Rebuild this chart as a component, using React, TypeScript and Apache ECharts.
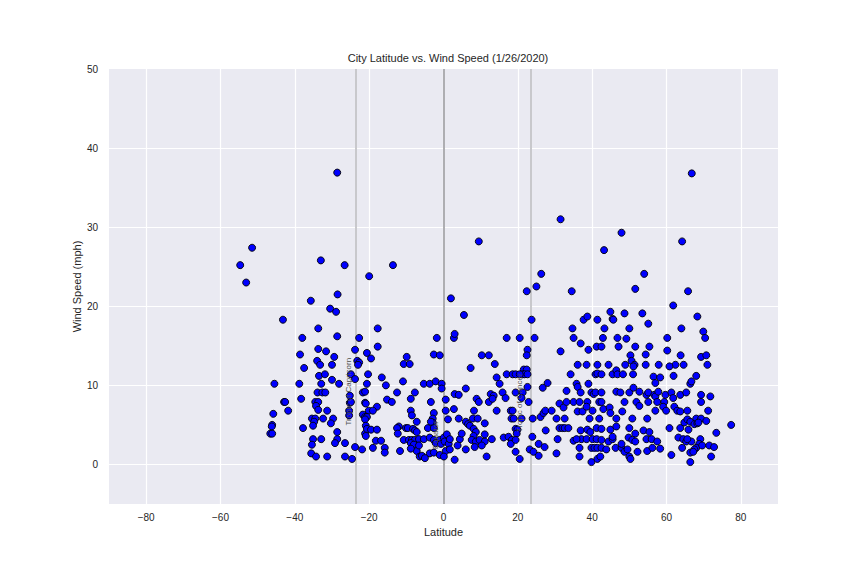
import React, { useEffect, useRef } from 'react';
import * as echarts from 'echarts';

// [latitude, wind speed (mph)] — southern hemisphere / near-equator south
const southernCities: [number, number][] = [
  [-51.5, 27.4], [-54.7, 25.2], [-53.1, 23.0], [-33.0, 25.8], [-26.6, 25.2], [-13.6, 25.2], [-20.0, 23.8],
  [-28.5, 21.5], [-35.7, 20.7], [-30.5, 19.7], [-28.9, 19.3], [-43.2, 18.3], [-33.7, 17.2], [-17.7, 17.2],
  [-38.0, 16.0], [-28.6, 16.2], [-22.7, 16.0], [-17.7, 14.9], [-33.7, 14.6], [-31.6, 14.3], [-38.6, 13.9],
  [-29.4, 13.6], [-23.8, 14.5], [-20.6, 14.1], [-19.5, 13.4], [-34.0, 13.1], [-33.2, 12.6], [-30.0, 12.6],
  [-23.2, 13.1], [-22.7, 12.9], [-23.0, 12.6], [-37.5, 12.2], [-9.9, 13.6], [-10.7, 12.7], [-9.1, 12.7],
  [-33.5, 11.2], [-31.9, 11.4], [-24.9, 11.4], [-30.0, 10.7], [-23.8, 10.8], [-20.3, 11.4], [-16.6, 11.0],
  [-10.9, 10.5], [-45.5, 10.2], [-38.8, 10.2], [-32.9, 10.2], [-28.1, 10.2], [-20.6, 10.2], [-15.5, 10.0],
  [-33.9, 9.1], [-32.6, 9.1], [-31.8, 9.1], [-38.3, 8.3], [-25.2, 8.7], [-21.7, 9.1], [-21.1, 9.2],
  [-12.5, 9.1], [-8.8, 8.3], [-7.7, 9.1], [-15.2, 8.2], [-13.9, 7.9], [-42.9, 7.9], [-42.6, 7.9],
  [-34.5, 7.9], [-33.7, 7.9], [-34.3, 7.4], [-33.7, 6.9], [-25.2, 7.8], [-24.9, 7.9], [-21.1, 7.8],
  [-20.9, 7.7], [-17.9, 7.3], [-41.8, 6.8], [-45.8, 6.4], [-31.3, 6.8], [-25.4, 6.8], [-20.1, 6.8],
  [-19.0, 6.8], [-21.7, 6.3], [-21.1, 6.0], [-20.6, 6.0], [-8.8, 6.8], [-8.5, 6.2], [-35.4, 5.8],
  [-34.5, 5.8], [-34.8, 5.4], [-32.4, 5.8], [-29.7, 5.8], [-25.4, 6.2], [-46.1, 5.0], [-46.2, 4.8],
  [-46.6, 3.9], [-46.1, 3.9], [-37.8, 4.6], [-35.1, 4.9], [-30.3, 5.2], [-28.6, 4.1], [-28.6, 3.2],
  [-29.2, 2.7], [-35.1, 3.2], [-32.9, 3.2], [-35.4, 2.5], [-26.5, 2.7], [-23.8, 2.2], [-21.9, 1.9],
  [-35.6, 1.4], [-34.3, 1.0], [-31.3, 1.0], [-26.5, 1.0], [-24.6, 0.7], [-21.1, 5.7], [-20.9, 4.9],
  [-21.1, 3.9], [-20.9, 3.6], [-20.6, 4.5], [-19.5, 4.4], [-17.9, 4.4], [-18.2, 3.0], [-16.8, 3.0],
  [-19.0, 2.1], [-15.8, 2.1], [-15.8, 1.5], [-11.7, 1.7], [-10.1, 4.6], [-9.6, 4.6], [-12.0, 4.8],
  [-12.5, 4.6], [-12.3, 3.9], [-10.7, 3.1], [-9.3, 3.1], [-8.5, 3.1], [-7.7, 3.1], [-6.6, 3.2],
  [-8.8, 2.7], [-8.0, 2.5], [-7.2, 1.7], [-6.4, 1.0], [-8.8, 2.0], [-8.2, 4.5], [-7.7, 4.3],
  [-7.2, 4.1], [-7.2, 5.4], [-28.6, 36.9], [-6.6, 2.4],
];

// [latitude, wind speed (mph)] — equator to ~42°N
const tropicalCities: [number, number][] = [
  [9.5, 28.2], [43.2, 27.1], [26.3, 24.1], [25.0, 22.5], [22.4, 21.9], [34.5, 21.9], [2.0, 21.0],
  [5.5, 18.9], [23.7, 18.3], [-1.8, 16.0], [2.8, 16.0], [3.0, 16.5], [17.0, 16.0], [20.5, 16.0],
  [24.5, 16.0], [34.7, 17.2], [35.0, 16.0], [37.7, 18.3], [38.7, 18.7], [41.4, 18.3], [36.9, 15.3],
  [39.0, 14.5], [41.2, 14.9], [22.6, 14.5], [22.4, 13.8], [-2.6, 13.9], [-1.0, 13.8], [10.3, 13.8],
  [12.2, 13.8], [13.8, 12.7], [7.3, 12.2], [31.5, 14.3], [21.6, 12.0], [22.4, 12.0], [21.3, 11.4],
  [21.8, 11.4], [22.6, 11.4], [17.0, 11.4], [18.6, 11.4], [19.4, 11.4], [20.5, 11.4], [14.3, 11.0],
  [15.1, 10.2], [15.9, 9.1], [16.7, 8.4], [22.6, 9.8], [22.9, 7.9], [26.7, 9.7], [28.0, 10.3],
  [34.2, 11.4], [35.8, 10.2], [36.1, 9.8], [39.0, 10.2], [36.1, 12.6], [38.5, 12.6], [41.4, 12.6],
  [40.9, 11.4], [41.4, 11.5], [-5.3, 10.2], [-3.7, 10.2], [-2.1, 10.5], [-0.5, 10.2], [-0.5, 9.6],
  [6.0, 9.6], [3.0, 8.9], [4.1, 8.8], [0.6, 8.2], [-3.4, 7.9], [8.9, 8.3], [9.5, 7.9], [12.2, 7.9],
  [12.7, 8.9], [13.5, 8.7], [13.2, 8.3], [-2.6, 6.5], [-2.9, 5.8], [-2.9, 5.3], [0.6, 6.8], [1.2, 5.7],
  [2.8, 7.0], [4.1, 5.8], [6.0, 5.4], [6.6, 5.1], [7.9, 5.8], [8.2, 6.8], [9.2, 5.8], [11.1, 5.2],
  [14.3, 6.8], [18.1, 6.8], [18.6, 6.8], [18.3, 5.8], [18.9, 5.8], [21.0, 5.8], [19.4, 4.5],
  [19.9, 4.4], [19.7, 3.9], [24.0, 5.8], [26.1, 6.0], [26.9, 6.5], [27.4, 6.8], [29.1, 6.8],
  [30.4, 5.8], [32.6, 5.8], [31.2, 7.7], [32.3, 7.2], [33.1, 9.3], [35.0, 7.9], [36.1, 6.7],
  [36.6, 7.9], [31.2, 4.6], [32.0, 4.6], [32.6, 4.6], [33.6, 4.6], [27.5, 4.3], [30.7, 3.2],
  [36.9, 4.3], [38.7, 4.4], [39.5, 4.1], [35.0, 3.0], [37.1, 3.2], [38.5, 3.2], [40.1, 3.2],
  [41.2, 3.2], [36.6, 2.1], [36.6, 1.0], [39.8, 2.1], [40.6, 2.1], [41.4, 2.1], [39.8, 0.3],
  [41.4, 0.7], [42.2, 1.0], [44.4, 2.9], [23.9, 3.5], [25.6, 2.6], [27.2, 2.2], [23.2, 1.9],
  [24.2, 1.6], [25.6, 1.1], [30.4, 1.4], [20.5, 0.7], [19.4, 1.6], [16.2, 3.4], [17.5, 3.5],
  [18.4, 3.1], [18.1, 2.6], [19.4, 3.1], [11.6, 1.0], [3.0, 0.6], [-5.3, 3.2], [-3.7, 3.4],
  [-2.6, 3.1], [-1.0, 3.1], [0.1, 3.4], [-2.1, 2.7], [-0.7, 2.6], [0.3, 2.9], [1.4, 2.6], [0.9, 3.8],
  [1.7, 3.2], [0.6, 1.7], [1.7, 1.9], [-3.7, 1.4], [-2.6, 1.5], [-1.0, 1.2], [0.1, 1.0], [-5.8, 1.1],
  [-5.0, 0.8], [7.1, 4.9], [8.1, 4.5], [8.7, 4.1], [8.1, 3.6], [7.6, 3.1], [8.7, 2.9], [9.7, 3.1],
  [11.1, 2.9], [11.1, 3.8], [10.3, 2.4], [4.4, 3.2], [4.9, 3.9], [3.8, 2.4], [6.0, 1.9], [13.0, 3.2],
  [8.4, 2.2], [-4.2, 4.6], [-2.6, 4.6], [-3.4, 5.4], [31.5, 31.0], [33.1, 7.9], [38.7, 7.9],
  [41.9, 7.9], [36.9, 9.1], [39.8, 9.1], [40.4, 8.9], [40.9, 9.1], [37.4, 6.7], [38.5, 7.3],
  [40.1, 6.8], [39.3, 5.8], [41.9, 5.8], [41.2, 4.6], [35.8, 3.2], [19.4, 9.1], [21.3, 9.1], [21.0, 8.4],
];

// [latitude, wind speed (mph)] — north of ~42°N
const northernCities: [number, number][] = [
  [64.2, 28.2], [54.0, 24.1], [51.6, 22.2], [65.8, 21.9], [61.8, 20.1], [44.9, 19.3], [48.7, 19.1],
  [53.5, 19.1], [45.5, 18.4], [45.7, 18.3], [55.1, 17.8], [68.3, 18.7], [43.3, 17.2], [50.0, 17.2],
  [64.0, 17.2], [69.9, 16.8], [70.4, 16.0], [42.9, 16.0], [46.8, 16.0], [49.2, 15.9], [60.2, 16.0],
  [42.5, 14.9], [47.1, 14.9], [51.6, 14.9], [55.4, 14.9], [60.2, 14.4], [50.3, 13.8], [50.6, 13.1],
  [51.4, 12.6], [51.1, 12.4], [54.4, 13.9], [54.4, 12.6], [63.8, 13.8], [64.6, 12.6], [62.4, 12.6],
  [60.8, 12.4], [61.9, 11.2], [57.9, 12.6], [69.3, 13.6], [70.7, 13.8], [71.0, 12.6], [44.4, 12.6],
  [48.9, 12.6], [42.5, 11.4], [45.5, 11.4], [46.5, 11.9], [46.8, 11.4], [48.3, 11.4], [51.0, 11.4],
  [56.5, 11.1], [58.3, 11.0], [57.0, 10.3], [68.0, 11.2], [66.4, 10.2], [66.7, 10.5], [42.5, 9.1],
  [46.5, 9.2], [47.6, 9.1], [50.0, 9.1], [51.1, 9.7], [52.7, 9.2], [54.6, 8.8], [55.1, 9.1],
  [56.7, 8.8], [57.0, 8.6], [57.8, 9.2], [59.7, 8.8], [61.3, 9.1], [61.8, 8.4], [63.7, 8.8],
  [65.3, 9.1], [69.3, 8.8], [71.8, 8.6], [42.5, 7.9], [48.7, 7.9], [51.9, 7.9], [52.7, 7.4],
  [55.1, 7.9], [57.5, 7.9], [59.4, 7.9], [59.1, 7.3], [59.9, 6.8], [62.1, 7.3], [62.9, 6.8],
  [63.7, 6.7], [65.6, 6.8], [69.3, 7.9], [71.2, 6.8], [43.0, 7.0], [44.7, 7.2], [44.9, 6.5],
  [48.1, 6.7], [46.5, 5.8], [50.8, 5.8], [54.8, 5.8], [57.0, 6.8], [60.8, 4.6], [63.7, 4.6],
  [64.8, 5.3], [65.6, 5.7], [65.9, 4.4], [66.4, 5.4], [68.0, 5.8], [69.3, 5.8], [70.7, 5.5],
  [67.5, 5.1], [68.3, 5.2], [68.6, 5.3], [77.4, 5.0], [73.4, 4.0], [42.5, 4.5], [44.9, 4.4],
  [46.5, 4.8], [50.0, 4.6], [51.6, 3.9], [53.8, 4.3], [55.4, 4.1], [54.6, 3.2], [56.0, 3.2],
  [57.5, 2.9], [45.5, 3.2], [49.8, 3.4], [50.8, 3.1], [51.6, 2.9], [42.5, 3.1], [63.2, 3.4],
  [64.5, 3.2], [65.3, 2.9], [66.7, 2.9], [69.1, 3.2], [68.8, 2.6], [68.0, 2.1], [67.5, 1.9],
  [66.4, 1.5], [67.2, 1.6], [69.6, 2.4], [71.5, 2.4], [72.8, 2.2], [64.2, 2.1], [65.6, 3.2],
  [42.5, 2.1], [43.8, 1.9], [46.3, 2.1], [47.9, 2.1], [48.7, 1.6], [49.5, 1.9], [50.0, 1.0],
  [50.3, 0.7], [52.2, 1.6], [54.8, 1.7], [56.2, 2.1], [58.3, 2.0], [61.3, 1.2], [66.4, 0.3],
  [72.0, 1.0], [66.8, 36.8], [47.9, 29.3], [45.5, 3.5], [47.9, 2.6],
];

// reference latitudes
const referenceLatitudes = [-23.5, 0, 23.5];
const referenceNames = ['Tropic of Capricorn', 'Equator', 'Tropic of Cancer'];
// where each name sits, [latitude, wind speed]
const referenceLabelAnchors: [number, number][] = [[-25.6, 9.2], [-2.1, 3.7], [20.4, 7.8]];

const FONT = "'Liberation Sans', Arial, Helvetica, sans-serif";
const TEXT = '#262626';
const minus = (v: number) => String(v).replace('-', '\u2212');

export default function App() {
  const ref = useRef<HTMLDivElement>(null);

  useEffect(() => {
    if (!ref.current) return;
    const chart = echarts.init(ref.current, undefined, { renderer: 'svg' });
    const lineColors = ['#C8C8CC', '#AEAEB2', '#C8C8CC'];

    chart.setOption({
      animation: false,
      backgroundColor: '#ffffff',
      textStyle: { fontFamily: FONT },
      title: {
        text: 'City Latitude vs. Wind Speed (1/26/2020)',
        left: 443,
        top: 47,
        textAlign: 'center',
        textStyle: { fontSize: 11, fontWeight: 'normal', color: TEXT, fontFamily: FONT },
      },
      grid: {
        left: 109,
        right: 86,
        top: 69,
        bottom: 72,
        show: true,
        backgroundColor: '#EAEAF2',
        borderWidth: 0,
      },
      xAxis: {
        type: 'value',
        min: -90,
        max: 90,
        splitNumber: 9,
        minInterval: 20,
        maxInterval: 20,
        name: 'Latitude',
        nameLocation: 'middle',
        nameGap: 22,
        nameMoveOverlap: false,
        nameTextStyle: { fontSize: 11, color: TEXT, fontFamily: FONT },
        axisLine: { show: false },
        axisTick: { show: false },
        axisLabel: {
          showMinLabel: false,
          showMaxLabel: false,
          margin: 8,
          fontSize: 10,
          color: TEXT,
          fontFamily: FONT,
          formatter: (v: number) => minus(v),
        },
        splitLine: {
          show: true,
          showMinLine: false,
          showMaxLine: false,
          lineStyle: { color: '#ffffff', width: 1.2 },
        },
      },
      yAxis: {
        type: 'value',
        min: -5,
        max: 50,
        splitNumber: 5,
        minInterval: 10,
        maxInterval: 10,
        name: 'Wind Speed (mph)',
        nameLocation: 'middle',
        nameGap: 27,
        nameMoveOverlap: false,
        nameTextStyle: { fontSize: 11, color: TEXT, fontFamily: FONT },
        axisLine: { show: false },
        axisTick: { show: false },
        axisLabel: {
          showMinLabel: false,
          margin: 11,
          fontSize: 10,
          color: TEXT,
          fontFamily: FONT,
          formatter: (v: number) => minus(v),
        },
        splitLine: {
          show: true,
          showMinLine: false,
          showMaxLine: false,
          lineStyle: { color: '#ffffff', width: 1.2 },
        },
      },
      series: [
        {
          type: 'line',
          data: [],
          silent: true,
          z: 1,
          markLine: {
            silent: true,
            z: 1,
            symbol: 'none',
            label: { show: false },
            data: referenceLatitudes.map((lat, i) => ({
              xAxis: lat,
              lineStyle: { color: lineColors[i], width: 2, type: 'solid' },
            })),
          },
        },
        {
          type: 'scatter',
          z: 2,
          symbolSize: 7,
          itemStyle: { color: '#0000FF', borderColor: '#000000', borderWidth: 0.9, opacity: 1 },
          data: [...southernCities, ...tropicalCities, ...northernCities],
        },
      ],
    });

    // rotated reference-line names, positioned through the chart's own scales
    const texts = referenceLabelAnchors.map((p, i) => {
      const [px, py] = chart.convertToPixel({ gridIndex: 0 }, p) as number[];
      return {
        type: 'text',
        x: px,
        y: py,
        rotation: Math.PI / 2,
        z: 100,
        silent: true,
        style: {
          text: referenceNames[i],
          fill: '#4d4d4d',
          font: `8px ${FONT}`,
          align: 'center',
          verticalAlign: 'middle',
        },
      };
    });
    chart.setOption({ graphic: { elements: texts } });

    return () => chart.dispose();
  }, []);

  return (
    <div
      ref={ref}
      style={{ position: 'fixed', left: 0, top: 0, width: 864, height: 576 }}
    />
  );
}
